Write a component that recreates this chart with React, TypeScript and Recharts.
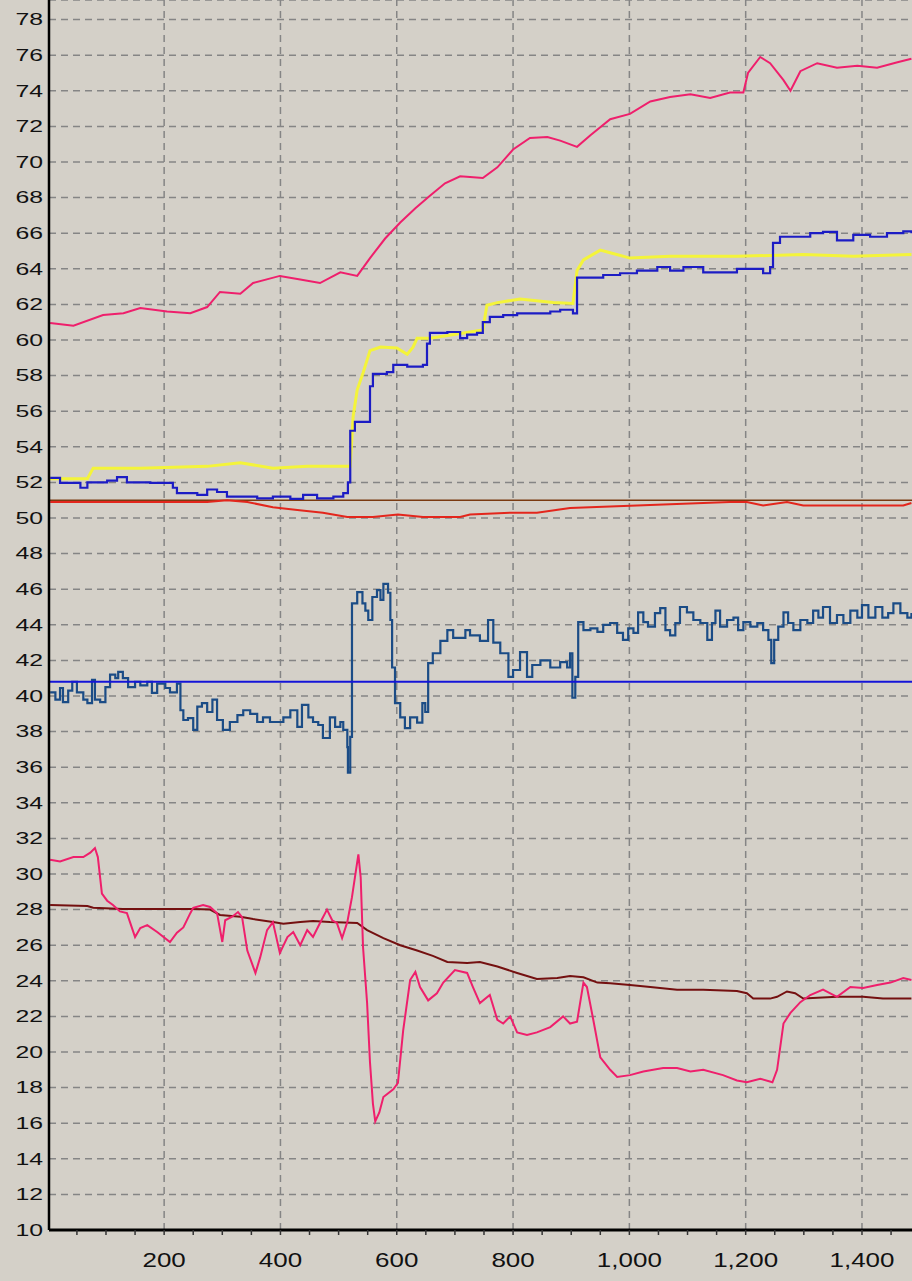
import React from 'react';
import {
  LineChart,
  Line,
  XAxis,
  YAxis,
  CartesianGrid,
  ReferenceLine,
} from 'recharts';

// [x, value] readings, one array per trace
const upperPink: [number, number][] = [
  [4, 60.96], [44, 60.8], [95, 61.4], [130, 61.5], [159, 61.8], [205, 61.6], [245, 61.5],
  [274, 61.85], [296, 62.7], [331, 62.6], [353, 63.2], [399, 63.6], [434, 63.4], [468, 63.2],
  [503, 63.8], [532, 63.6], [554, 64.6], [580, 65.7], [606, 66.6], [632, 67.4], [657, 68.1],
  [683, 68.8], [709, 69.2], [726, 69.16], [748, 69.1], [773, 69.7], [800, 70.7], [829, 71.35],
  [859, 71.4], [881, 71.2], [910, 70.85], [933, 71.5], [967, 72.4], [1001, 72.7], [1036, 73.4],
  [1070, 73.65], [1105, 73.8], [1139, 73.6], [1173, 73.9], [1196, 73.9], [1204, 75.0],
  [1225, 75.9], [1242, 75.55], [1265, 74.6], [1277, 74.0], [1294, 75.1], [1323, 75.55],
  [1357, 75.3], [1392, 75.4], [1426, 75.3], [1461, 75.6], [1485, 75.8],
];

const stepBlue: [number, number][] = [
  [4, 52.25], [21, 51.97], [56, 51.7], [68, 52.0], [78, 52.0], [102, 52.1], [119, 52.3],
  [136, 52.0], [176, 51.97], [210, 51.97], [215, 51.7], [222, 51.4], [257, 51.3], [274, 51.6],
  [291, 51.46], [308, 51.2], [331, 51.2], [360, 51.1], [387, 51.2], [417, 51.07], [439, 51.3],
  [463, 51.1], [491, 51.2], [508, 51.4], [516, 52.0], [520, 54.9], [528, 55.4], [549, 55.4],
  [554, 57.4], [559, 58.1], [583, 58.2], [594, 58.6], [618, 58.5], [645, 58.6], [652, 59.8],
  [657, 60.4], [687, 60.45], [709, 60.1], [721, 60.3], [738, 60.4], [748, 61.0], [760, 61.3],
  [783, 61.4], [807, 61.5], [841, 61.5], [864, 61.6], [881, 61.7], [903, 61.5], [910, 63.5],
  [921, 63.5], [955, 63.65], [984, 63.75], [1013, 63.9], [1048, 64.1], [1070, 63.9],
  [1093, 64.1], [1127, 63.8], [1161, 63.8], [1185, 64.0], [1208, 64.0], [1230, 63.75],
  [1242, 64.1], [1247, 65.45], [1259, 65.8], [1288, 65.8], [1311, 66.0], [1333, 66.07],
  [1357, 65.6], [1385, 65.9], [1414, 65.8], [1443, 66.0], [1471, 66.1], [1485, 66.0],
];

const setpointYellow: [number, number][] = [
  [4, 52.2], [68, 52.2], [78, 52.8], [159, 52.8], [274, 52.9], [331, 53.1], [387, 52.8],
  [446, 52.9], [520, 52.9], [525, 55.7], [532, 57.2], [542, 58.15], [554, 59.4], [572, 59.6],
  [600, 59.55], [618, 59.2], [628, 59.6], [635, 60.1], [657, 60.1], [726, 60.45], [748, 60.56],
  [755, 61.95], [773, 62.1], [812, 62.3], [869, 62.1], [903, 62.05], [910, 63.9], [921, 64.5],
  [950, 65.05], [967, 64.9], [1001, 64.6], [1070, 64.7], [1185, 64.7], [1299, 64.8],
  [1385, 64.7], [1485, 64.8],
];

const redTrace: [number, number][] = [
  [4, 50.9], [274, 50.9], [308, 51.0], [343, 50.9], [387, 50.6], [429, 50.45], [473, 50.3],
  [515, 50.06], [559, 50.06], [602, 50.2], [645, 50.06], [709, 50.06], [726, 50.2],
  [795, 50.3], [841, 50.3], [898, 50.56], [1013, 50.7], [1127, 50.84], [1173, 50.9],
  [1202, 50.9], [1230, 50.7], [1271, 50.9], [1299, 50.7], [1357, 50.7], [1471, 50.7],
  [1485, 50.84],
];

const brownLimit: [number, number][] = [[2, 51.0], [1486, 51.0]];
const blueLimit: [number, number][] = [[2, 40.8], [1486, 40.8]];

const steelNoisy: [number, number][] = [
  [4, 40.2], [13, 39.8], [21, 40.45], [26, 39.66], [35, 40.3], [42, 40.8], [50, 40.2],
  [61, 39.8], [68, 39.6], [76, 40.9], [81, 39.8], [90, 39.66], [99, 40.5], [107, 41.2],
  [116, 41.0], [121, 41.35], [129, 41.0], [138, 40.5], [150, 40.8], [159, 40.6], [171, 40.8],
  [179, 40.17], [188, 40.7], [202, 40.45], [210, 40.2], [222, 40.7], [228, 39.2], [233, 38.65],
  [241, 38.76], [250, 38.1], [257, 39.4], [265, 39.6], [274, 39.1], [283, 39.8], [291, 38.65],
  [301, 38.1], [313, 38.54], [326, 38.93], [336, 39.2], [348, 39.0], [360, 38.54], [370, 38.8],
  [382, 38.54], [405, 38.8], [417, 39.2], [429, 38.26], [437, 39.5], [448, 38.8], [456, 38.54],
  [465, 38.37], [473, 37.64], [485, 38.8], [494, 38.26], [503, 38.54], [508, 38.1],
  [515, 37.13], [516, 35.7], [520, 37.7], [523, 45.2], [532, 45.84], [541, 45.2], [546, 44.8],
  [551, 44.27], [558, 45.56], [566, 45.95], [572, 45.4], [577, 46.3], [585, 45.8], [589, 44.27],
  [592, 41.6], [597, 39.6], [606, 38.8], [614, 38.2], [623, 38.8], [635, 38.5], [644, 39.6],
  [649, 39.1], [654, 41.85], [662, 42.4], [675, 43.1], [687, 43.7], [697, 43.26], [718, 43.7],
  [726, 43.4], [743, 43.1], [757, 44.27], [766, 43.0], [778, 42.4], [792, 41.07], [800, 41.46],
  [812, 42.47], [824, 41.07], [833, 41.74], [847, 42.0], [864, 41.6], [881, 41.9], [893, 41.6],
  [898, 42.4], [902, 39.9], [907, 41.07], [912, 44.15], [921, 43.7], [933, 43.8], [945, 43.6],
  [955, 44.0], [967, 44.1], [979, 43.55], [989, 43.15], [998, 43.8], [1007, 43.55],
  [1015, 44.7], [1024, 44.15], [1032, 43.9], [1044, 44.66], [1053, 44.94], [1062, 43.7],
  [1070, 43.4], [1079, 44.1], [1087, 45.0], [1099, 44.7], [1110, 44.27], [1122, 44.1],
  [1134, 43.15], [1142, 44.1], [1148, 44.8], [1156, 43.9], [1168, 44.27], [1179, 44.4],
  [1187, 43.7], [1196, 44.15], [1208, 43.9], [1220, 44.1], [1230, 43.7], [1239, 43.15],
  [1244, 41.85], [1249, 43.15], [1256, 43.9], [1265, 44.7], [1273, 44.1], [1282, 43.7],
  [1294, 44.27], [1306, 44.1], [1316, 44.8], [1325, 44.4], [1333, 45.0], [1345, 44.1],
  [1357, 44.55], [1368, 44.1], [1380, 44.8], [1392, 44.4], [1400, 45.1], [1411, 44.4],
  [1423, 45.0], [1435, 44.4], [1445, 44.66], [1454, 45.2], [1466, 44.66], [1478, 44.4],
  [1485, 44.66],
];

const lowerPink: [number, number][] = [
  [4, 30.8], [21, 30.7], [44, 30.95], [61, 30.95], [73, 31.2], [81, 31.46], [86, 30.95],
  [93, 28.9], [102, 28.5], [112, 28.26], [124, 27.9], [136, 27.8], [150, 26.46], [159, 26.96],
  [171, 27.13], [188, 26.74], [210, 26.18], [222, 26.7], [233, 27.0], [245, 27.8], [250, 28.1],
  [267, 28.26], [279, 28.15], [291, 27.8], [300, 26.18], [305, 27.4], [317, 27.6],
  [327, 27.86], [334, 27.58], [343, 25.7], [357, 24.44], [365, 25.3], [377, 26.85],
  [387, 27.3], [399, 25.56], [412, 26.46], [422, 26.74], [434, 26.0], [446, 26.85],
  [456, 26.46], [468, 27.25], [480, 28.0], [489, 27.4], [497, 27.25], [506, 26.4], [515, 27.3],
  [523, 28.7], [528, 29.8], [534, 31.1], [538, 29.8], [542, 25.9], [549, 22.75], [554, 19.4],
  [559, 17.1], [563, 16.1], [570, 16.6], [577, 17.47], [594, 17.9], [602, 18.26], [611, 21.2],
  [623, 24.04], [632, 24.5], [640, 23.65], [654, 22.9], [669, 23.3], [680, 23.9], [700, 24.6],
  [721, 24.44], [731, 23.65], [743, 22.75], [760, 23.2], [773, 21.8], [783, 21.6], [795, 22.0],
  [807, 21.1], [824, 20.96], [841, 21.1], [864, 21.4], [886, 22.0], [898, 21.6], [910, 21.7],
  [921, 23.9], [927, 23.65], [938, 21.8], [950, 19.7], [967, 19.0], [979, 18.6], [1001, 18.7],
  [1024, 18.9], [1058, 19.1], [1082, 19.1], [1105, 18.9], [1127, 19.0], [1161, 18.7],
  [1185, 18.4], [1202, 18.3], [1225, 18.5], [1246, 18.3], [1254, 19.0], [1265, 21.6],
  [1277, 22.2], [1294, 22.8], [1311, 23.2], [1333, 23.5], [1357, 23.1], [1380, 23.65],
  [1402, 23.6], [1426, 23.76], [1449, 23.9], [1471, 24.16], [1485, 24.04],
];

const maroonTrend: [number, number][] = [
  [4, 28.26], [68, 28.2], [78, 28.1], [129, 28.03], [250, 28.03], [279, 28.0], [296, 27.7],
  [331, 27.6], [353, 27.47], [387, 27.3], [405, 27.2], [434, 27.3], [456, 27.36], [485, 27.3],
  [532, 27.25], [549, 26.85], [577, 26.4], [606, 26.0], [635, 25.7], [662, 25.4], [687, 25.06],
  [721, 25.0], [743, 25.06], [773, 24.8], [807, 24.44], [841, 24.1], [876, 24.16], [898, 24.27],
  [921, 24.2], [945, 23.9], [967, 23.86], [1001, 23.76], [1036, 23.65], [1082, 23.5],
  [1127, 23.5], [1185, 23.43], [1202, 23.3], [1213, 23.0], [1242, 23.0], [1254, 23.1],
  [1271, 23.4], [1285, 23.3], [1299, 23.0], [1357, 23.1], [1402, 23.1], [1436, 23.0],
  [1485, 23.0],
];

const yTicks = [10, 12, 14, 16, 18, 20, 22, 24, 26, 28, 30, 32, 34, 36, 38, 40, 42, 44, 46, 48, 50,
  52, 54, 56, 58, 60, 62, 64, 66, 68, 70, 72, 74, 76, 78];
const xMinorTicks = [50, 100, 150, 200, 250, 300, 350, 400, 450, 500, 550, 600, 650, 700, 750, 800,
  850, 900, 950, 1000, 1050, 1100, 1150, 1200, 1250, 1300, 1350, 1400, 1450];
const xGridLines = [200, 400, 600, 800, 1000, 1200, 1400];

const rows = (pts: [number, number][]) => pts.map(([x, v]) => ({ x, v }));

const FONT = '"Liberation Sans", Arial, sans-serif';

const YTick = ({ y, payload }: any) => (
  <text
    transform={`translate(43,${y}) scale(1.55,1)`}
    textAnchor="end"
    dy="0.36em"
    fontSize={16}
    fontFamily={FONT}
    fill="#111"
  >
    {payload.value}
  </text>
);

const XTick = ({ x, payload }: any) => {
  if (payload.value % 200 !== 0) return <g />;
  return (
    <text
      transform={`translate(${x},1267) scale(1.3,1)`}
      textAnchor="middle"
      fontSize={20}
      fontFamily={FONT}
      fill="#111"
    >
      {payload.value.toLocaleString('en-US')}
    </text>
  );
};

const series = [
  { key: 'brown', data: brownLimit, color: '#7a3a10', width: 1.6, type: 'linear' },
  { key: 'red', data: redTrace, color: '#e3261c', width: 2, type: 'linear' },
  { key: 'yellow', data: setpointYellow, color: '#f4f43a', width: 3, type: 'linear' },
  { key: 'blue', data: stepBlue, color: '#1c1cc4', width: 2.2, type: 'stepAfter' },
  { key: 'pinkTop', data: upperPink, color: '#ef1f6c', width: 2, type: 'linear' },
  { key: 'steel', data: steelNoisy, color: '#1b4c86', width: 2.2, type: 'stepAfter' },
  { key: 'blueLimit', data: blueLimit, color: '#1414d8', width: 1.8, type: 'linear' },
  { key: 'maroon', data: maroonTrend, color: '#741010', width: 2, type: 'linear' },
  { key: 'pinkLow', data: lowerPink, color: '#ef1f6c', width: 2, type: 'linear' },
] as const;

export default function App() {
  return (
    <div
      style={{
        position: 'absolute',
        left: 0,
        top: 0,
        width: 912,
        height: 1281,
        background: '#d4d0c8',
      }}
    >
      <LineChart width={912} height={1281} margin={{ top: 0, right: 0, left: 0, bottom: 0 }}>
        <CartesianGrid
          vertical={false}
          stroke="#858585"
          strokeWidth={1.5}
          strokeDasharray="7 5"
        />
        {xGridLines.map((gx) => (
          <ReferenceLine
            key={gx}
            x={gx}
            stroke="#858585"
            strokeWidth={1.5}
            strokeDasharray="7 5"
          />
        ))}
        <XAxis
          type="number"
          dataKey="x"
          domain={[2, 1486]}
          allowDataOverflow
          ticks={xMinorTicks}
          interval={0}
          height={51}
          tickSize={5}
          axisLine={{ stroke: '#000', strokeWidth: 3 }}
          tickLine={{ stroke: '#333', strokeWidth: 1.5 }}
          tick={<XTick />}
        />
        <YAxis
          type="number"
          domain={[10, 79.1]}
          allowDataOverflow
          ticks={yTicks}
          interval={0}
          width={49}
          tickLine={false}
          axisLine={{ stroke: '#000', strokeWidth: 2.5 }}
          tick={<YTick />}
        />
        {series.map((s) => (
          <Line
            key={s.key}
            data={rows(s.data as unknown as [number, number][])}
            dataKey="v"
            type={s.type}
            stroke={s.color}
            strokeWidth={s.width}
            dot={false}
            activeDot={false}
            isAnimationActive={false}
          />
        ))}
      </LineChart>
    </div>
  );
}
